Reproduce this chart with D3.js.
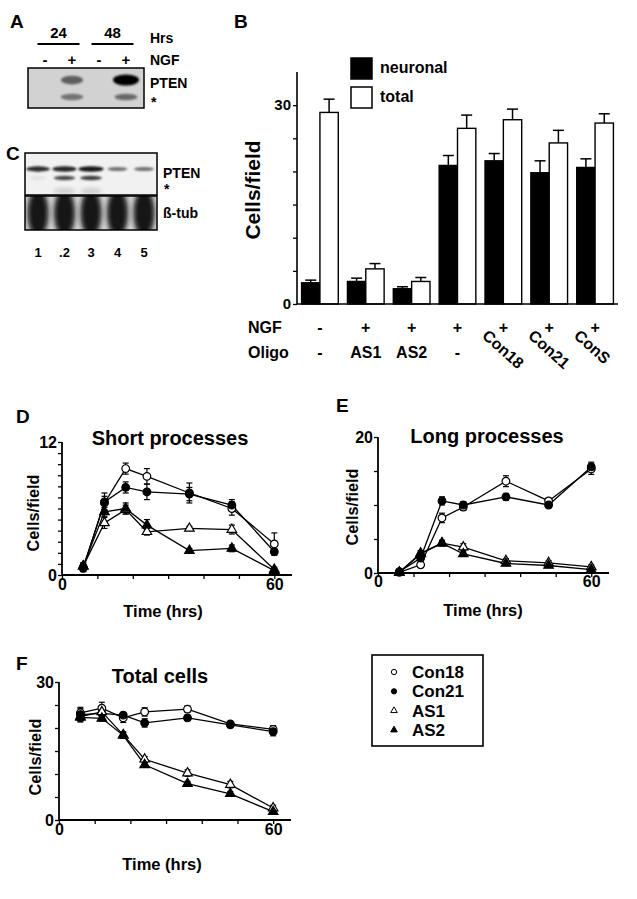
<!DOCTYPE html>
<html><head><meta charset="utf-8">
<script src="https://cdn.jsdelivr.net/npm/d3@7"></script>
<style>
body{margin:0;background:#fff}
text{font-family:"Liberation Sans",Arial,sans-serif;font-weight:bold;fill:#000}
</style>
</head><body>
<svg id="fig" width="637" height="899" xmlns="http://www.w3.org/2000/svg"></svg>
<script>
// ---------------- DATA ----------------
// Panel A (western blot)
const hoursA = ["24", "48"];
const ngfA = ["-", "+", "-", "+"];
const ptenA = [0, 0.55, 0, 1.0];
const starA = [0, 0.45, 0, 0.5];
// Panel C (western blot)
const lanesC = ["1", ".2", "3", "4", "5"];
const ptenC = [0.8, 0.85, 0.95, 0.4, 0.4];
const starC = [0.05, 0.7, 0.75, 0, 0];
const tubC = [1, 1, 1, 1, 1];
// Panel B (bars)
const groupsB = ["g1", "g2", "g3", "g4", "g5", "g6", "g7"];
const ngfB = ["-", "+", "+", "+", "+", "+", "+"];
const oligoB = ["-", "AS1", "AS2", "-", "Con18", "Con21", "ConS"];
const neuronalB = [3.2, 3.4, 2.3, 20.9, 21.6, 19.8, 20.6];
const neuronalErrB = [0.4, 0.5, 0.3, 1.5, 1.1, 1.8, 1.3];
const totalB = [28.9, 5.3, 3.4, 26.5, 27.8, 24.3, 27.3];
const totalErrB = [2.0, 0.8, 0.6, 2.0, 1.6, 1.9, 1.4];
const yTicksB = [0, 5, 10, 15, 20, 25, 30];
const yLabelsB = [0, 30];
// Panels D, E, F (time courses)
const times = [6, 12, 18, 24, 36, 48, 60];
const seriesNames = ["Con18", "Con21", "AS1", "AS2"];
const shortCon18 = [0.7, 6.5, 9.6, 8.9, 7.4, 6.0, 2.8];
const shortCon18Err = [0.3, 0.6, 0.5, 0.7, 0.9, 0.6, 1.0];
const shortCon21 = [0.6, 6.6, 7.9, 7.5, 7.3, 6.3, 2.1];
const shortCon21Err = [0.3, 0.8, 0.5, 0.7, 0.6, 0.5, 0.3];
const shortAS1 = [0.8, 4.7, 5.9, 3.9, 4.2, 4.1, 0.5];
const shortAS1Err = [0.3, 0.5, 0.4, 0.3, 0.2, 0.4, 0.2];
const shortAS2 = [0.8, 5.7, 6.0, 4.5, 2.2, 2.4, 0.4];
const shortAS2Err = [0.3, 0.4, 0.5, 0.5, 0.2, 0.3, 0.2];
const longCon18 = [0.1, 1.2, 8.1, 9.7, 13.5, 10.6, 15.3];
const longCon18Err = [0.2, 0.4, 0.7, 0.5, 0.8, 0.4, 0.8];
const longCon21 = [0.2, 2.2, 10.6, 10.0, 11.2, 10.0, 15.6];
const longCon21Err = [0.2, 0.5, 0.6, 0.5, 0.5, 0.4, 0.7];
const longAS1 = [0.1, 2.8, 4.4, 3.8, 1.8, 1.5, 0.9];
const longAS1Err = [0.2, 0.4, 0.4, 0.5, 0.3, 0.3, 0.3];
const longAS2 = [0.1, 2.9, 4.4, 2.8, 1.4, 1.1, 0.5];
const longAS2Err = [0.2, 0.4, 0.4, 0.3, 0.2, 0.2, 0.2];
const totalCon18 = [23.3, 24.3, 22.2, 23.5, 24.1, 20.9, 19.7];
const totalCon18Err = [1.2, 1.3, 1.0, 0.9, 0.7, 0.5, 0.8];
const totalCon21 = [22.9, 23.2, 22.8, 21.1, 22.2, 20.7, 19.2];
const totalCon21Err = [1.3, 0.8, 0.6, 0.9, 0.6, 0.6, 0.9];
const totalAS1 = [22.5, 23.5, 18.5, 13.2, 10.2, 7.7, 2.6];
const totalAS1Err = [1.2, 0.8, 0.7, 0.6, 0.7, 0.7, 0.6];
const totalAS2 = [22.3, 22.1, 18.4, 12.0, 7.9, 5.7, 1.8];
const totalAS2Err = [0.8, 0.6, 0.6, 0.5, 0.5, 0.5, 0.5];
const xTickVals = [0, 10, 20, 30, 40, 50, 60];
const xTickLabels = [0, 60];

// ---------------- DRAW ----------------
const FONT = '"Liberation Sans", Arial, sans-serif';
const svg = d3.select("#fig");
svg.append("rect").attr("width", 637).attr("height", 899).attr("fill", "#fff");
const defs = svg.append("defs");
[["blur1", 1.2], ["blur2", 2], ["blur3", 2.6]].forEach(([id, s]) => {
  defs.append("filter").attr("id", id).attr("x", "-50%").attr("y", "-50%").attr("width", "200%").attr("height", "200%")
    .append("feGaussianBlur").attr("stdDeviation", s);
});
function label(g, x, y, t, size, anchor) {
  return g.append("text").attr("x", x).attr("y", y).style("font-size", size + "px")
    .attr("text-anchor", anchor || "start").text(t);
}
function styleTicks(sel, size) {
  sel.selectAll(".tick text").style("font-size", size + "px").style("font-family", FONT)
    .style("font-weight", "bold").attr("fill", "#000");
}

// ===== Panel A =====
const gA = svg.append("g");
label(gA, 10, 28, "A", 19);
const xA = d3.scalePoint().domain(d3.range(ngfA.length)).range([45, 126]);
hoursA.forEach((h, i) => {
  const cx = (xA(2 * i) + xA(2 * i + 1)) / 2;
  label(gA, cx, 38, h, 15, "middle");
  gA.append("line").attr("x1", cx - 21).attr("x2", cx + 21).attr("y1", 44).attr("y2", 44)
    .attr("stroke", "#000").attr("stroke-width", 2);
});
label(gA, 150, 43, "Hrs", 14);
label(gA, 150, 65, "NGF", 14);
ngfA.forEach((s, i) => label(gA, xA(i), 65, s, 15, "middle"));
gA.append("rect").attr("x", 28).attr("y", 68).attr("width", 116).attr("height", 40)
  .attr("fill", "#d2d2d2");
ngfA.forEach((s, i) => {
  const a = ptenA[i];
  if (a > 0) gA.append("ellipse").attr("cx", xA(i)).attr("cy", 80).attr("rx", 9 + a * 4).attr("ry", 3 + a * 2.5)
    .attr("fill", "#000").attr("opacity", a).attr("filter", "url(#blur1)");
  const b = starA[i];
  if (b > 0) gA.append("ellipse").attr("cx", xA(i)).attr("cy", 97).attr("rx", 10 + b * 3).attr("ry", 3.2)
    .attr("fill", "#000").attr("opacity", b).attr("filter", "url(#blur1)");
});
gA.append("rect").attr("x", 28).attr("y", 68).attr("width", 116).attr("height", 40)
  .attr("fill", "none").attr("stroke", "#000").attr("stroke-width", 1.5);
label(gA, 150, 88, "PTEN", 14);
label(gA, 151, 107, "*", 14);

// ===== Panel C =====
const gC = svg.append("g");
label(gC, 6, 160, "C", 19);
const xC = d3.scalePoint().domain(lanesC).range([38, 144]);
gC.append("rect").attr("x", 25).attr("y", 153).attr("width", 132).attr("height", 42).attr("fill", "#f1f1f1");
lanesC.forEach((l, i) => {
  const a = ptenC[i];
  gC.append("ellipse").attr("cx", xC(l)).attr("cy", 169).attr("rx", 8 + a * 5).attr("ry", 1.6 + a * 1.3)
    .attr("fill", "#000").attr("opacity", 0.25 + a * 0.7).attr("filter", "url(#blur1)");
  const b = starC[i];
  if (b > 0) {
    gC.append("ellipse").attr("cx", xC(l)).attr("cy", 178).attr("rx", 8 + b * 4).attr("ry", 2.2)
      .attr("fill", "#000").attr("opacity", b).attr("filter", "url(#blur1)");
    if (b > 0.2) gC.append("ellipse").attr("cx", xC(l)).attr("cy", 191).attr("rx", 11).attr("ry", 3)
      .attr("fill", "#000").attr("opacity", 0.15).attr("filter", "url(#blur2)");
  }
});
gC.append("rect").attr("x", 25).attr("y", 153).attr("width", 132).attr("height", 42)
  .attr("fill", "none").attr("stroke", "#000").attr("stroke-width", 1.5);
const clip = defs.append("clipPath").attr("id", "tubclip");
clip.append("rect").attr("x", 25).attr("y", 196).attr("width", 132).attr("height", 34);
const gT = gC.append("g").attr("clip-path", "url(#tubclip)");
gT.append("rect").attr("x", 25).attr("y", 196).attr("width", 132).attr("height", 34).attr("fill", "#d8d8d8");
lanesC.forEach((l, i) => {
  gT.append("ellipse").attr("cx", xC(l)).attr("cy", 213).attr("rx", 10.5 * tubC[i]).attr("ry", 24)
    .attr("fill", "#151515").attr("filter", "url(#blur3)");
});
gC.append("rect").attr("x", 25).attr("y", 196).attr("width", 132).attr("height", 34)
  .attr("fill", "none").attr("stroke", "#000").attr("stroke-width", 1.5);
label(gC, 163, 178, "PTEN", 14);
label(gC, 164, 194, "*", 14);
label(gC, 163, 218, "ß-tub", 14);
lanesC.forEach(l => label(gC, xC(l), 257, l, 13, "middle"));

// ===== Panel B =====
const gB = svg.append("g");
label(gB, 234, 28, "B", 19);
const xB = d3.scaleBand().domain(groupsB).range([297, 618]).paddingInner(0.2).paddingOuter(0.1);
const subB = d3.scaleBand().domain(["n", "t"]).range([0, xB.bandwidth()]);
const yB = d3.scaleLinear().domain([0, 35]).range([304, 72]);
groupsB.forEach((g, i) => {
  const x0 = xB(g);
  [["n", neuronalB[i], neuronalErrB[i], "#000"], ["t", totalB[i], totalErrB[i], "#fff"]].forEach(([k, v, e, f]) => {
    const bx = x0 + subB(k), bw = subB.bandwidth(), cx = bx + bw / 2;
    gB.append("line").attr("x1", cx).attr("x2", cx).attr("y1", yB(v)).attr("y2", yB(v + e))
      .attr("stroke", "#000").attr("stroke-width", 1.5);
    gB.append("line").attr("x1", cx - 5.5).attr("x2", cx + 5.5).attr("y1", yB(v + e)).attr("y2", yB(v + e))
      .attr("stroke", "#000").attr("stroke-width", 1.5);
    gB.append("rect").attr("x", bx).attr("y", yB(v)).attr("width", bw).attr("height", yB(0) - yB(v))
      .attr("fill", f).attr("stroke", "#000").attr("stroke-width", 1.4);
  });
});
gB.append("g").attr("transform", "translate(297,0)")
  .call(d3.axisLeft(yB).tickValues(yTicksB).tickSize(4).tickFormat(d => yLabelsB.includes(d) ? d : ""))
  .call(g => { g.select(".domain").attr("stroke-width", 1.6).attr("d", `M-0,${yB(0)}V${yB(35)}`);
    g.selectAll(".tick line").attr("stroke-width", 1.3);
    styleTicks(g, 15); g.selectAll(".tick text").attr("x", -6); });
gB.append("line").attr("x1", 297).attr("x2", 618).attr("y1", yB(0)).attr("y2", yB(0)).attr("stroke", "#000").attr("stroke-width", 1.6);
label(gB, 0, 0, "Cells/field", 21, "middle").attr("transform", "translate(260,190) rotate(-90)");
// legend
[["neuronal", "#000", 58], ["total", "#fff", 87]].forEach(([t, f, y]) => {
  gB.append("rect").attr("x", 351).attr("y", y).attr("width", 21).attr("height", 21)
    .attr("fill", f).attr("stroke", "#000").attr("stroke-width", 1.5);
  label(gB, 380, y + 15, t, 16);
});
label(gB, 248, 333, "NGF", 16);
label(gB, 248, 358, "Oligo", 16);
groupsB.forEach((g, i) => {
  const cx = xB(g) + xB.bandwidth() / 2;
  label(gB, cx, 333, ngfB[i], 16, "middle");
  if (oligoB[i].startsWith("Con")) {
    label(gB, 0, 0, oligoB[i], 16, "start").attr("transform", `translate(${cx - 22},${337}) rotate(42)`);
  } else {
    label(gB, cx, 358, oligoB[i], 16, "middle");
  }
});

// ===== Time course panels =====
const markerDefs = {
  Con18: { sym: d3.symbolCircle, fill: "#fff" },
  Con21: { sym: d3.symbolCircle, fill: "#000" },
  AS1: { sym: d3.symbolTriangle, fill: "#fff" },
  AS2: { sym: d3.symbolTriangle, fill: "#000" }
};
function symPath(name, size) {
  const m = markerDefs[name];
  return d3.symbol().type(m.sym).size(m.sym === d3.symbolCircle ? size : size * 0.85)();
}
function linePanel(cfg) {
  const g = svg.append("g");
  const x = d3.scaleLinear().domain([0, 65]).range(cfg.xr);
  const y = d3.scaleLinear().domain([0, cfg.ymax]).range(cfg.yr);
  label(g, cfg.letter[1], cfg.letter[2], cfg.letter[0], 19);
  label(g, cfg.titleX, cfg.titleY, cfg.title, 20, "middle");
  // axes
  g.append("g").attr("transform", `translate(${cfg.xr[0]},0)`)
    .call(d3.axisLeft(y).tickValues(d3.range(0, cfg.ymax + 0.01, cfg.ystep)).tickSize(4)
      .tickFormat(d => (d === 0 || d === cfg.ymax) ? d : ""))
    .call(a => { a.select(".domain").attr("stroke-width", 1.8).attr("d", `M0,${cfg.yr[0]}V${cfg.yr[1]}`);
      a.selectAll(".tick line").attr("stroke-width", 1.3);
      styleTicks(a, 16); a.selectAll(".tick text").attr("x", -5); });
  g.append("g").attr("transform", `translate(0,${cfg.yr[0]})`)
    .call(d3.axisBottom(x).tickValues(xTickVals).tickSize(4).tickFormat(d => xTickLabels.includes(d) ? d : ""))
    .call(a => { a.select(".domain").attr("stroke-width", 1.8).attr("d", `M${cfg.xr[0]},0H${cfg.xr[1]}`);
      a.selectAll(".tick line").attr("stroke-width", 1.3);
      styleTicks(a, 16); a.selectAll(".tick text").attr("y", cfg.xlabDy).attr("dy", 0); });
  label(g, cfg.timeX, cfg.timeY, "Time (hrs)", 16.5, "middle");
  label(g, 0, 0, "Cells/field", 16.3, "middle").attr("transform", `translate(${cfg.ylabX},${cfg.ylabY}) rotate(-90)`);
  const line = d3.line().x((d, i) => x(times[i])).y(d => y(d));
  cfg.series.forEach(s => {
    g.append("path").attr("d", line(s.v)).attr("fill", "none").attr("stroke", "#000").attr("stroke-width", 1.3);
  });
  cfg.series.forEach(s => {
    s.v.forEach((v, i) => {
      const cx = x(times[i]), e = s.e[i];
      g.append("line").attr("x1", cx).attr("x2", cx).attr("y1", y(v - e)).attr("y2", y(v + e)).attr("stroke", "#000").attr("stroke-width", 1.2);
      [v - e, v + e].forEach(w => g.append("line").attr("x1", cx - 3).attr("x2", cx + 3).attr("y1", y(w)).attr("y2", y(w))
        .attr("stroke", "#000").attr("stroke-width", 1.2));
    });
  });
  cfg.series.forEach(s => {
    s.v.forEach((v, i) => {
      g.append("path").attr("d", symPath(s.name, 46)).attr("transform", `translate(${x(times[i])},${y(v)})`)
        .attr("fill", markerDefs[s.name].fill).attr("stroke", "#000").attr("stroke-width", 1.2);
    });
  });
}
linePanel({ letter: ["D", 16, 423], title: "Short processes", titleX: 170, titleY: 445,
  xr: [62, 292], yr: [575, 442], ymax: 12, ystep: 1, xlabDy: 15, timeX: 163, timeY: 617, ylabX: 39, ylabY: 513,
  series: [
    { name: "Con18", v: shortCon18, e: shortCon18Err }, { name: "Con21", v: shortCon21, e: shortCon21Err },
    { name: "AS1", v: shortAS1, e: shortAS1Err }, { name: "AS2", v: shortAS2, e: shortAS2Err }] });
linePanel({ letter: ["E", 336, 412], title: "Long processes", titleX: 487, titleY: 443,
  xr: [378, 609], yr: [573, 437], ymax: 20, ystep: 5, xlabDy: 14, timeX: 483, timeY: 616, ylabX: 358, ylabY: 507,
  series: [
    { name: "Con18", v: longCon18, e: longCon18Err }, { name: "Con21", v: longCon21, e: longCon21Err },
    { name: "AS1", v: longAS1, e: longAS1Err }, { name: "AS2", v: longAS2, e: longAS2Err }] });
linePanel({ letter: ["F", 16, 670], title: "Total cells", titleX: 160, titleY: 683,
  xr: [59, 291], yr: [820, 682], ymax: 30, ystep: 5, xlabDy: 15, timeX: 162, timeY: 870, ylabX: 41, ylabY: 757,
  series: [
    { name: "Con18", v: totalCon18, e: totalCon18Err }, { name: "Con21", v: totalCon21, e: totalCon21Err },
    { name: "AS1", v: totalAS1, e: totalAS1Err }, { name: "AS2", v: totalAS2, e: totalAS2Err }] });

// legend for D-F
const gL = svg.append("g");
gL.append("rect").attr("x", 372).attr("y", 655).attr("width", 111).attr("height", 91)
  .attr("fill", "#fff").attr("stroke", "#000").attr("stroke-width", 1.6);
const yL = d3.scalePoint().domain(seriesNames).range([678, 736]);
seriesNames.forEach(n => {
  gL.append("path").attr("d", symPath(n, 22)).attr("transform", `translate(394,${yL(n) - 6})`)
    .attr("fill", markerDefs[n].fill).attr("stroke", "#000").attr("stroke-width", 1);
  label(gL, 412, yL(n), n, 17);
});
</script>
</body></html>
